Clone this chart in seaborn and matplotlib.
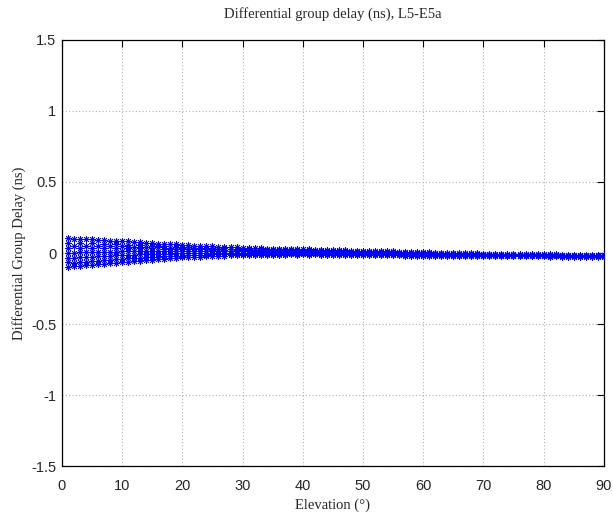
import matplotlib
matplotlib.use("Agg")
import matplotlib.pyplot as plt
import seaborn as sns
import pandas as pd

elev_odd = list(range(1, 90, 2))
elev_even = list(range(2, 91, 2))

# odd-degree tracks
track_a = [.105, .102, .098, .093, .088, .083, .077, .071, .065, .060, .055, .050, .046, .042, .039,
           .036, .034, .031, .029, .027, .025, .023, .021, .019, .017, .015, .013, .011, .009, .007,
           .005, .003, .001, -.001, -.003, -.005, -.006, -.007, -.008, -.009, -.010, -.011, -.012, -.013, -.014]
track_ab = [.071, .070, .068, .065, .062, .059, .056, .052, .048, .045, .041, .038, .035, .032, .030,
            .028, .026, .024, .023, .021, .019, .018, .016, .014, .012, .010, .008, .007, .005, .003,
            .001, -.001, -.003, -.005, -.007, -.008, -.009, -.010, -.011, -.012, -.013, -.014, -.014, -.015, -.016]
track_b = [.037, .038, .038, .037, .036, .035, .034, .032, .030, .029, .027, .025, .024, .022, .021,
           .020, .018, .017, .016, .014, .013, .012, .010, .008, .007, .005, .003, .002, .000, -.002,
           -.003, -.005, -.007, -.008, -.010, -.011, -.012, -.013, -.013, -.014, -.015, -.016, -.016, -.017, -.018]
track_bc = [.003, .005, .007, .008, .010, .011, .012, .013, .013, .013, .013, .013, .013, .012, .012,
            .012, .011, .010, .009, .008, .007, .006, .005, .003, .002, .000, -.002, -.003, -.005, -.006,
            -.008, -.009, -.011, -.012, -.013, -.014, -.015, -.016, -.016, -.017, -.018, -.018, -.019, -.019, -.020]
track_c = [-.032, -.029, -.025, -.021, -.017, -.013, -.010, -.007, -.005, -.003, -.001, .000, .001, .002, .002,
           .003, .003, .002, .002, .002, .001, .000, -.001, -.002, -.004, -.005, -.006, -.008, -.009, -.010,
           -.012, -.013, -.014, -.015, -.016, -.017, -.018, -.018, -.019, -.019, -.020, -.020, -.021, -.021, -.021]
track_cd = [-.066, -.061, -.055, -.049, -.043, -.037, -.032, -.027, -.023, -.019, -.015, -.013, -.010, -.008, -.007,
            -.006, -.005, -.005, -.005, -.005, -.005, -.006, -.007, -.008, -.009, -.010, -.011, -.013, -.014, -.015,
            -.016, -.017, -.018, -.019, -.020, -.020, -.021, -.021, -.022, -.022, -.023, -.023, -.023, -.023, -.023]
track_d = [-.100, -.093, -.085, -.077, -.069, -.061, -.053, -.046, -.040, -.034, -.029, -.025, -.021, -.018, -.016,
           -.014, -.013, -.012, -.011, -.011, -.011, -.011, -.012, -.013, -.014, -.015, -.016, -.017, -.018, -.019,
           -.020, -.021, -.022, -.022, -.023, -.023, -.024, -.024, -.024, -.024, -.025, -.025, -.025, -.025, -.025]

# even-degree tracks
track_e = [.098, .096, .092, .087, .082, .077, .071, .065, .060, .055, .050, .046, .042, .039, .036,
           .033, .031, .029, .027, .025, .023, .021, .019, .017, .015, .013, .011, .009, .007, .005,
           .003, .001, -.001, -.002, -.004, -.005, -.006, -.007, -.008, -.009, -.010, -.011, -.012, -.013, -.014]
track_ef = [.050, .051, .050, .048, .047, .045, .042, .039, .037, .034, .032, .029, .027, .025, .024,
            .022, .021, .019, .018, .016, .015, .013, .012, .010, .008, .007, .005, .003, .001, -.001,
            -.003, -.004, -.006, -.007, -.009, -.010, -.011, -.011, -.012, -.013, -.014, -.015, -.015, -.016, -.017]
track_f = [.002, .005, .007, .009, .011, .012, .013, .013, .013, .013, .013, .012, .012, .011, .011,
           .010, .010, .009, .008, .007, .006, .005, .004, .002, .001, .000, -.002, -.003, -.005, -.006,
           -.008, -.009, -.011, -.012, -.013, -.014, -.015, -.015, -.016, -.016, -.017, -.018, -.018, -.019, -.019]
track_fg = [-.033, -.028, -.024, -.020, -.016, -.012, -.009, -.007, -.005, -.003, -.001, .000, .001, .002, .002,
            .002, .002, .002, .002, .001, .000, -.001, -.002, -.004, -.005, -.006, -.007, -.008, -.010, -.011,
            -.012, -.013, -.015, -.016, -.017, -.017, -.018, -.018, -.019, -.019, -.020, -.021, -.021, -.021, -.021]
track_g = [-.067, -.061, -.055, -.049, -.042, -.036, -.031, -.026, -.022, -.018, -.015, -.012, -.010, -.008, -.007,
           -.006, -.006, -.005, -.005, -.006, -.006, -.007, -.008, -.009, -.010, -.011, -.012, -.013, -.014, -.015,
           -.016, -.017, -.018, -.019, -.020, -.020, -.021, -.021, -.022, -.022, -.022, -.023, -.023, -.023, -.023]
track_h = [-.093, -.086, -.078, -.070, -.062, -.054, -.047, -.041, -.035, -.030, -.026, -.022, -.019, -.016, -.014,
           -.013, -.012, -.011, -.010, -.010, -.010, -.011, -.012, -.013, -.014, -.015, -.016, -.017, -.018, -.019,
           -.020, -.021, -.021, -.022, -.022, -.023, -.023, -.024, -.024, -.024, -.024, -.025, -.025, -.025, -.025]

series = [("a", elev_odd, track_a), ("ab", elev_odd, track_ab), ("b", elev_odd, track_b),
          ("bc", elev_odd, track_bc), ("c", elev_odd, track_c), ("cd", elev_odd, track_cd),
          ("d", elev_odd, track_d),
          ("e", elev_even, track_e), ("ef", elev_even, track_ef), ("f", elev_even, track_f),
          ("fg", elev_even, track_fg), ("g", elev_even, track_g), ("h", elev_even, track_h)]
df = pd.concat([pd.DataFrame({"elev": el, "dgd": vals, "track": name}) for name, el, vals in series],
               ignore_index=True)

xticks = [0, 10, 20, 30, 40, 50, 60, 70, 80, 90]
yticks = [-1.5, -1, -0.5, 0, 0.5, 1, 1.5]
ytick_labels = ["-1.5", "-1", "-0.5", "0", "0.5", "1", "1.5"]

sns.set_style("white")
fig = plt.figure(figsize=(6.13, 5.19), dpi=100)
ax = fig.add_axes([0.101, 0.102, 0.884, 0.821])

sns.scatterplot(data=df, x="elev", y="dgd", ax=ax, marker=(8, 2, 0), s=20,
                color=(0, 0, 1), linewidth=0.6, legend=False, zorder=3)

ax.set_xlim(0, 90)
ax.set_ylim(-1.5, 1.5)
ax.set_xticks(xticks)
ax.set_yticks(yticks)
ax.set_xticklabels([str(t) for t in xticks], fontfamily="Liberation Sans", fontsize=10.5)
ax.set_yticklabels(ytick_labels, fontfamily="Liberation Sans", fontsize=10.5)
ax.grid(True, color="#b0b0b0", linestyle=(0, (1, 2)), linewidth=0.8)
ax.tick_params(direction="in", top=True, right=True, length=5, width=0.8, color="black")
ax.tick_params(axis="x", pad=9)
ax.tick_params(axis="y", pad=4)
for sp in ax.spines.values():
    sp.set_color("black")
    sp.set_linewidth(0.9)

ax.set_title("Differential group delay (ns), L5-E5a", fontfamily="Liberation Serif", fontsize=10.5, pad=16)
ax.set_xlabel("Elevation (°)", fontfamily="Liberation Serif", fontsize=10.5, labelpad=4)
ax.set_ylabel("Differential Group Delay (ns)", fontfamily="Liberation Serif", fontsize=10.5, labelpad=4)

fig.savefig("out.png", dpi=100)
